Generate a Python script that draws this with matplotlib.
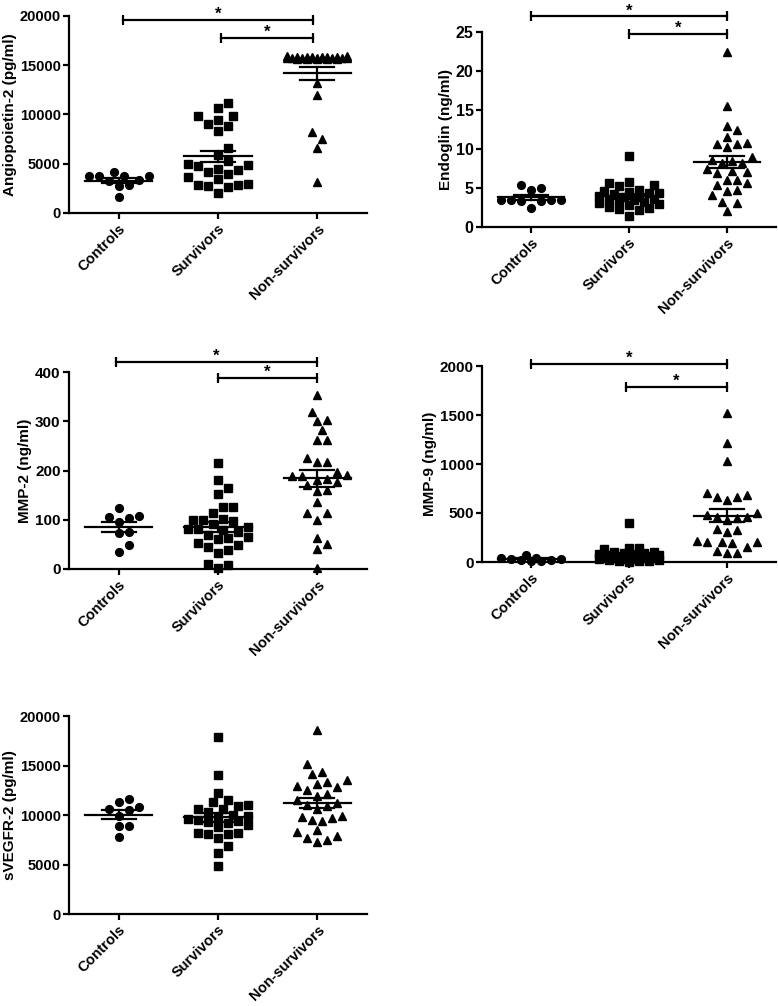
import numpy as np
import matplotlib
matplotlib.use("Agg")
import matplotlib.pyplot as plt

plt.rcParams['font.family'] = ['Liberation Sans', 'DejaVu Sans']
plt.rcParams['font.weight'] = 'bold'

groups = ['Controls', 'Survivors', 'Non-survivors']

# Angiopoietin-2 (pg/ml)
ang_ctrl = [3800, 3700, 4200, 3700, 3800, 3300, 3200, 2800, 2700, 1650]
ang_surv = [11200, 10600, 9800, 9800, 9400, 9000, 8800, 8300, 6600, 5900, 5300, 5000, 4800,
            4500, 4400, 4200, 4000, 3600, 3400, 2900, 2800, 2800, 2700, 2600, 2000, 4900]
ang_non = [15900, 15850, 15800, 15800, 15750, 15750, 15700, 15700, 15650, 15650, 15600,
           15900, 15850, 15800, 15750, 15750, 15700, 15700, 15650, 15600, 15800, 15750,
           13150, 11970, 8240, 7470, 6560, 3170]

# Endoglin (ng/ml)
end_ctrl = [5.0, 4.7, 5.4, 3.4, 3.3, 3.5, 3.4, 3.5, 2.5, 3.3]
end_surv = [9.1, 5.8, 5.6, 5.4, 5.3, 4.8, 4.6, 4.5, 4.4, 4.3, 4.2, 4.0, 3.9, 3.8, 3.6, 3.5,
            3.4, 3.3, 3.2, 3.1, 3.0, 2.8, 2.6, 2.4, 2.3, 2.2, 1.4]
end_non = [22.4, 15.5, 12.9, 12.4, 11.5, 10.7, 10.2, 10.7, 10.8, 9.0, 8.5, 8.2, 8.2, 8.6,
           7.4, 7.2, 7.0, 6.9, 6.0, 6.0, 5.6, 5.4, 4.7, 4.1, 4.6, 3.1, 3.2, 2.0]

# MMP-2 (ng/ml)
mmp2_ctrl = [108, 103, 105, 123, 95, 76, 74, 49, 35]
mmp2_surv = [216, 181, 165, 152, 126, 126, 113, 99, 97, 99, 102, 86, 92, 82, 80, 82, 69, 62,
             65, 49, 45, 53, 38, 33, 10, 3, 8, 60, 75]
mmp2_non = [354, 319, 302, 301, 282, 262, 262, 226, 218, 217, 189, 197, 189, 182, 190, 170,
            176, 180, 159, 160, 137, 114, 114, 99, 51, 40, 62, 2]

# MMP-9 (ng/ml)
mmp9_ctrl = [75, 45, 40, 30, 25, 20, 15, 10, 35]
mmp9_surv = [401, 140, 140, 130, 105, 100, 95, 90, 85, 80, 75, 70, 65, 60, 55, 50, 50, 45,
             40, 40, 35, 30, 30, 25, 20, 15, 10, 10, 5]
mmp9_non = [1524, 1211, 1034, 701, 666, 633, 666, 684, 462, 480, 462, 446, 497, 309, 327, 337,
            190, 207, 200, 200, 215, 156, 115, 89, 89, 430]

# sVEGFR-2 (pg/ml)
vegf_ctrl = [10780, 10500, 11330, 11660, 9900, 10600, 8850, 8850, 7740]
vegf_surv = [17900, 14000, 12250, 11550, 11300, 11050, 10950, 10650, 10600, 10300, 10000, 9900,
             9700, 9500, 9350, 9300, 9200, 9000, 8800, 8200, 8150, 8100, 8100, 7650, 6850,
             6200, 4800, 9600]
vegf_non = [18550, 15150, 14300, 14150, 13500, 13350, 12850, 12900, 13150, 12550, 11900, 12100,
            11000, 10950, 11500, 11200, 9800, 9500, 9850, 9700, 9400, 8300, 8450, 7700, 7300,
            7500, 7850, 10600]

W, H = 778, 1006
fig = plt.figure(figsize=(W / 100, H / 100), dpi=100)


def add_ax(left, right, top, bottom):
    return fig.add_axes([left / W, 1 - bottom / H, (right - left) / W, (bottom - top) / H])


def swarm(ax, xc, vals, d=10.0, maxoff=34):
    # simple beeswarm in pixel space, like the prism scatter layout
    vals = np.asarray(vals, float)
    pix = ax.transData.transform(np.column_stack([np.full(len(vals), xc), vals]))
    x0 = pix[0, 0]
    ys = pix[:, 1]
    step = d * 0.5
    cands = [0.0]
    k = 1
    while k * step <= maxoff:
        cands += [k * step, -k * step]
        k += 1
    xs = np.zeros(len(vals))
    placed = []
    for i in np.argsort(ys):
        best, bestd = None, -1
        for c in cands:
            if placed:
                pp = np.array(placed)
                md = np.min(np.hypot(pp[:, 0] - c, pp[:, 1] - ys[i]))
            else:
                md = np.inf
            if md >= d:
                best = c
                break
            if md > bestd:
                best, bestd = c, md
        xs[i] = best
        placed.append((best, ys[i]))
    out = ax.transData.inverted().transform(np.column_stack([x0 + xs, ys]))
    return out[:, 0]


def panel(ax, data, ymax, ystep, ylabel, brackets=None, fs=10.5):
    ax.set_xlim(0.5, 3.5)
    ax.set_ylim(0, ymax)
    for s in ['top', 'right']:
        ax.spines[s].set_visible(False)
    for s in ['left', 'bottom']:
        ax.spines[s].set_linewidth(1.6)
    ax.set_yticks(np.arange(0, ymax + ystep / 2, ystep))
    ax.set_xticks([1, 2, 3])
    ax.set_xticklabels(groups, rotation=45, ha='right', va='top', rotation_mode='anchor',
                       fontsize=10.5, fontweight='bold')
    ax.tick_params(width=1.6, length=4, pad=2)
    ax.tick_params(axis='y', labelsize=fs)
    ax.set_ylabel(ylabel, fontsize=11, fontweight='bold', labelpad=2)
    markers = [('o', 5.6), ('s', 5.4), ('^', 6.2)]
    for i, vals in enumerate(data):
        xs = swarm(ax, i + 1, vals)
        m, ms = markers[i]
        ax.plot(xs, vals, ls='none', marker=m, ms=ms, color='black', clip_on=False, zorder=3)
        mean = np.mean(vals)
        sem = np.std(vals, ddof=1) / np.sqrt(len(vals))
        ax.plot([i + 1 - 0.34, i + 1 + 0.34], [mean, mean], color='black', lw=1.6, zorder=4)
        ax.plot([i + 1 - 0.17, i + 1 + 0.17], [mean + sem] * 2, color='black', lw=1.6, zorder=4)
        ax.plot([i + 1 - 0.17, i + 1 + 0.17], [mean - sem] * 2, color='black', lw=1.6, zorder=4)
        ax.plot([i + 1, i + 1], [mean - sem, mean + sem], color='black', lw=1.6, zorder=4)
    if brackets:
        for x1, x2, y in brackets:
            ax.plot([x1, x2], [y, y], color='black', lw=1.6, marker='|', ms=7, mew=1.6,
                    clip_on=False)
            ax.annotate('*', xy=((x1 + x2) / 2, y), xytext=(0, -1.5), textcoords='offset points',
                        ha='center', va='bottom', fontsize=12, fontweight='bold',
                        annotation_clip=False)


ax1 = add_ax(69, 367, 15.7, 213)
panel(ax1, [ang_ctrl, ang_surv, ang_non], 20000, 5000, 'Angiopoietin-2 (pg/ml)',
      [(1.04, 2.96, 19560), (2.03, 2.96, 17740)], fs=10.5)

ax2 = add_ax(482, 776, 32, 227)
panel(ax2, [end_ctrl, end_surv, end_non], 25, 5, 'Endoglin (ng/ml)',
      [(1.0, 3.0, 27.0), (2.0, 3.0, 24.75)], fs=11.5)

ax3 = add_ax(69, 367, 372, 569)
panel(ax3, [mmp2_ctrl, mmp2_surv, mmp2_non], 400, 100, 'MMP-2 (ng/ml)',
      [(0.97, 3.0, 420), (2.0, 3.0, 388)], fs=11)

ax4 = add_ax(482, 776, 366, 562)
panel(ax4, [mmp9_ctrl, mmp9_surv, mmp9_non], 2000, 500, 'MMP-9 (ng/ml)',
      [(1.0, 3.0, 2020), (1.97, 3.0, 1786)], fs=11)

ax5 = add_ax(69, 367, 716, 914)
panel(ax5, [vegf_ctrl, vegf_surv, vegf_non], 20000, 5000, 'sVEGFR-2 (pg/ml)', fs=10.5)

fig.savefig('out.png', dpi=100)
